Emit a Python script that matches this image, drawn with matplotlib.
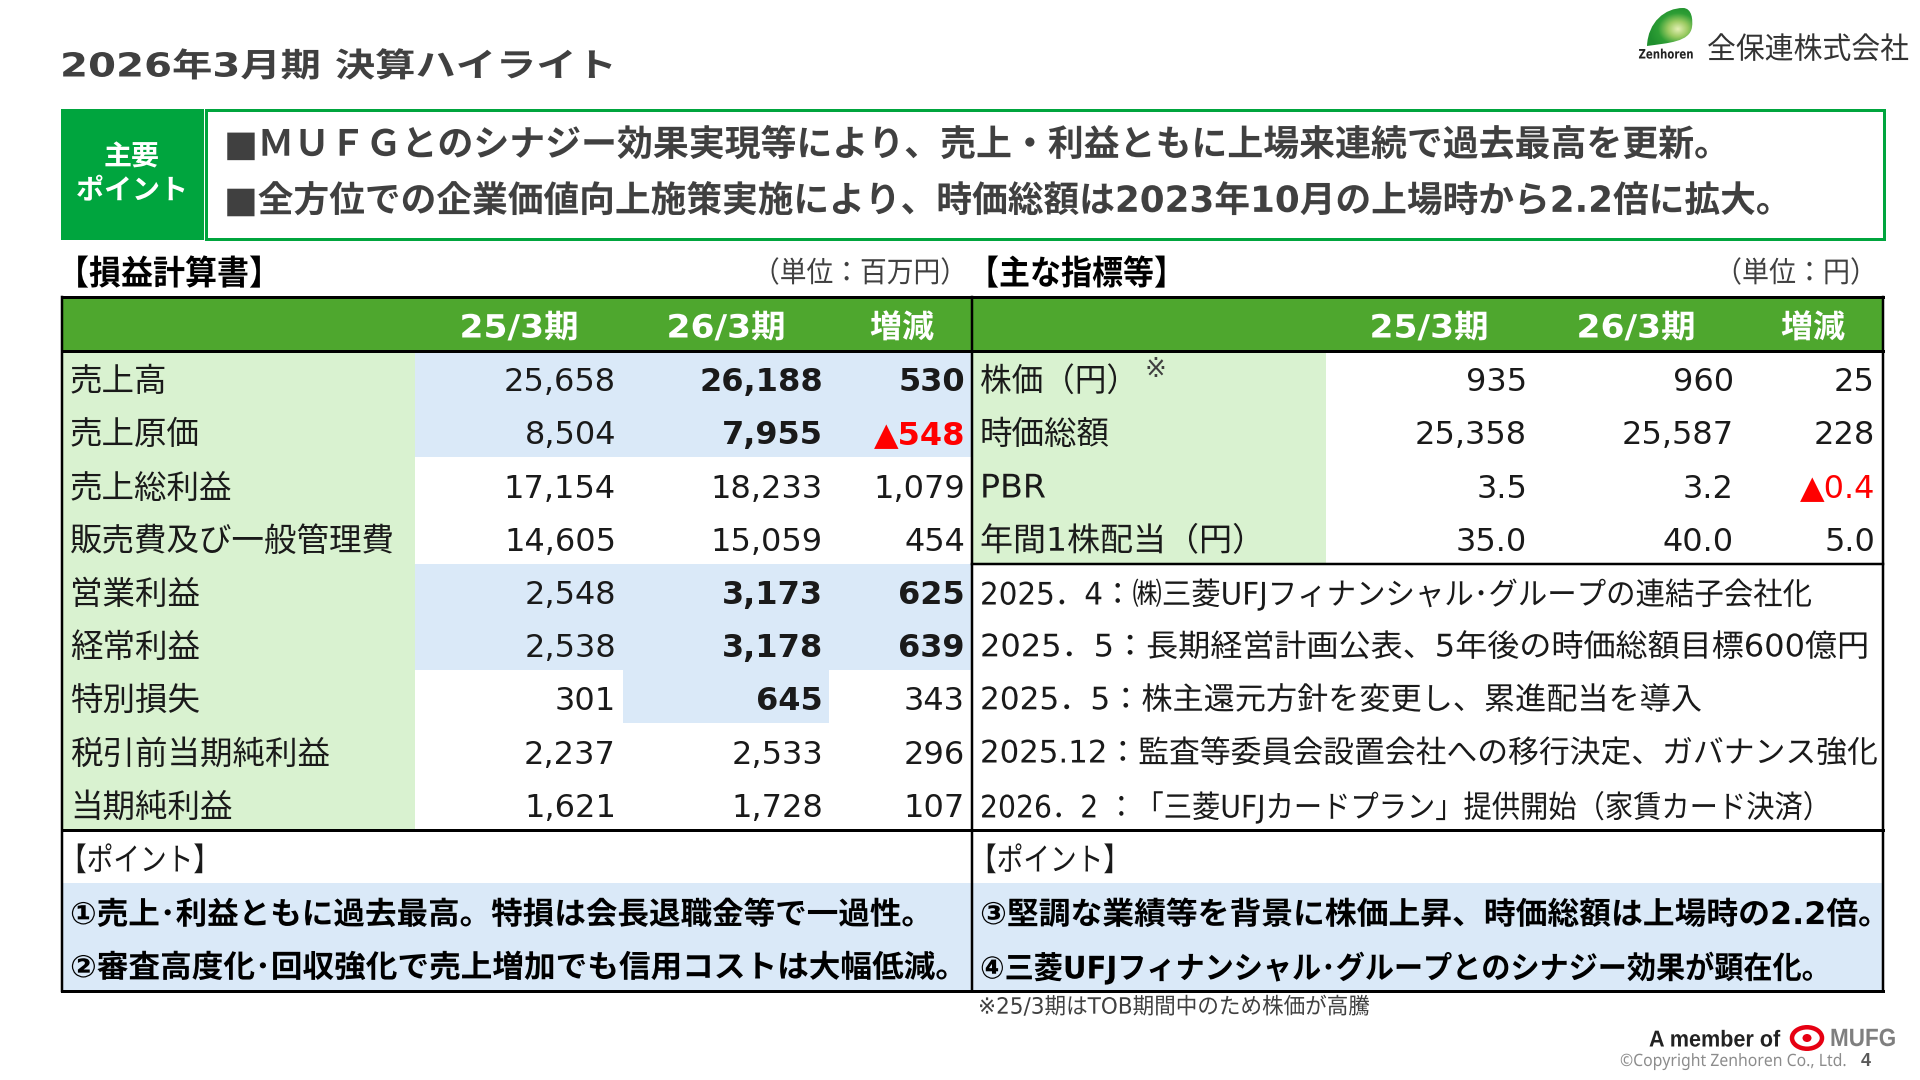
import numpy as np
import matplotlib
matplotlib.use("Agg")
import matplotlib.pyplot as plt
import matplotlib.patheffects as pe
from matplotlib.patches import Rectangle, PathPatch, Ellipse
from matplotlib.path import Path
from matplotlib.transforms import Affine2D
from matplotlib.colors import LinearSegmentedColormap

# ---------- data ----------
pl_labels = ["売上高", "売上原価", "売上総利益", "販売費及び一般管理費", "営業利益",
             "経常利益", "特別損失", "税引前当期純利益", "当期純利益"]
pl_fy25 = [25658, 8504, 17154, 14605, 2548, 2538, 301, 2237, 1621]
pl_fy26 = [26188, 7955, 18233, 15059, 3173, 3178, 645, 2533, 1728]
pl_diff = [530, -548, 1079, 454, 625, 639, 343, 296, 107]
pl_blue_all = [0, 1, 4, 5]
pl_blue_fy26 = [6]

kpi_labels = ["株価（円）", "時価総額", "PBR", "年間1株配当（円）"]
kpi_fy25 = ["935", "25,358", "3.5", "35.0"]
kpi_fy26 = ["960", "25,587", "3.2", "40.0"]
kpi_diff = ["25", "228", "▲0.4", "5.0"]

col_heads = ["25/3期", "26/3期", "増減"]
events = ["2025．4：㈱三菱UFJフィナンシャル･グループの連結子会社化",
          "2025．5：長期経営計画公表、5年後の時価総額目標600億円",
          "2025．5：株主還元方針を変更し、累進配当を導入",
          "2025.12：監査等委員会設置会社への移行決定、ガバナンス強化",
          "2026．2 ：「三菱UFJカードプラン」提供開始（家賃カード決済）"]
event_ends = [1812, 1869, 1702, 1878, 1831]
points_left = ["①売上･利益ともに過去最高。特損は会長退職金等で一過性。",
               "②審査高度化･回収強化で売上増加でも信用コストは大幅低減。"]
points_left_ends = [933, 967]
points_right = ["③堅調な業績等を背景に株価上昇、時価総額は上場時の2.2倍。",
                "④三菱UFJフィナンシャル･グループとのシナジー効果が顕在化。"]
points_right_ends = [1890, 1831]

# ---------- style ----------
C_BOX = "#00A53E"
C_HEAD = "#4EA72E"
C_LABEL = "#D9F2D0"
C_BLUE = "#DAE9F8"
C_TXT = "#1a1a1a"
C_DARK = "#404040"
RED = "#FF0000"
FAM = ["DejaVu Sans", "Noto Sans CJK JP"]
LAT = ["Liberation Sans", "DejaVu Sans"]

fig = plt.figure(figsize=(19.2, 10.8), dpi=100, facecolor="white")
ax = fig.add_axes([0, 0, 1, 1])
ax.set_xlim(0, 1920)
ax.set_ylim(1080, 0)
ax.axis("off")
renderer = fig.canvas.get_renderer()


class Squeeze(pe.AbstractPathEffect):
    """Scale a text horizontally about a display x anchor."""
    def __init__(self, sx, x0):
        super().__init__()
        self.sx, self.x0 = sx, x0

    def draw_path(self, renderer, gc, tpath, affine, rgbFace=None):
        t = affine + Affine2D().translate(-self.x0, 0).scale(self.sx, 1).translate(self.x0, 0)
        renderer.draw_path(gc, tpath, t, rgbFace)


def put(x, y, s, px=32, color=C_TXT, weight="normal", ha="left", width=None, family=None):
    t = ax.text(x, y, s, fontsize=px * 0.72, color=color, fontweight=weight, ha=ha,
                va="center", family=family or FAM)
    if width is not None:
        bb = t.get_window_extent(renderer)
        anchor = {"left": bb.x0, "center": (bb.x0 + bb.x1) / 2, "right": bb.x1}[ha]
        t.set_path_effects([Squeeze(width / bb.width, anchor)])
    return t


def rect(x0, y0, x1, y1, color):
    ax.add_patch(Rectangle((x0, y0), x1 - x0, y1 - y0, facecolor=color, edgecolor="none", lw=0))


def line(x0, y0, x1, y1, w=2.0, color="black"):
    ax.plot([x0, x1], [y0, y1], color=color, lw=w * 0.72, solid_capstyle="projecting")


# ---------- layout ----------
L, M, R = 61.5, 972, 1883
TOP, HEAD_B, ROW_H = 297, 351, 53.2
ROWS_B = HEAD_B + 9 * ROW_H
P1, BOT = 883, 991
ROW_DY = 5
row_y = [HEAD_B + ROW_H * (i + 0.5) for i in range(9)]
row_top = [HEAD_B + ROW_H * i for i in range(9)]

# title
put(60, 67, "2026年3月期 決算ハイライト", px=33, color=C_DARK, weight="bold", width=557)

# key points box
rect(61, 109, 204, 240, C_BOX)
ax.add_patch(Rectangle((206, 109.5), 1678, 129.5, facecolor="white", edgecolor=C_BOX, lw=3 * 0.72))
put(132, 158, "主要", px=28, color="white", weight="bold", ha="center")
put(132, 191, "ポイント", px=28, color="white", weight="bold", ha="center", width=112)
put(224, 145, "■ＭＵＦＧとのシナジー効果実現等により、売上・利益ともに上場来連続で過去最高を更新。",
    px=36, color=C_DARK, weight="bold", width=1506)
put(224, 201, "■全方位での企業価値向上施策実施により、時価総額は2023年10月の上場時から2.2倍に拡大。",
    px=36, color=C_DARK, weight="bold", width=1568)

# section heads
put(57, 275, "【損益計算書】", px=34, color="black", weight="bold", width=224)
put(968, 275, "【主な指標等】", px=34, color="black", weight="bold", width=217)
put(967, 274, "（単位：百万円）", px=29, color=C_DARK, ha="right", width=214)
put(1877, 274, "（単位：円）", px=29, color=C_DARK, ha="right", width=162)

# fills
rect(L, TOP, R, HEAD_B, C_HEAD)
rect(L, HEAD_B, 415, ROWS_B, C_LABEL)
rect(M, HEAD_B, 1326, HEAD_B + 4 * ROW_H, C_LABEL)
for i in pl_blue_all:
    rect(415, row_top[i], M, row_top[i] + ROW_H, C_BLUE)
for i in pl_blue_fy26:
    rect(623, row_top[i], 829, row_top[i] + ROW_H, C_BLUE)
rect(L, P1, R, BOT, C_BLUE)

# lines
line(L, TOP, R, TOP, 3)
line(L, HEAD_B, R, HEAD_B, 3)
line(L, ROWS_B, R, ROWS_B, 3)
line(L, BOT, R, BOT, 3)
line(L, TOP, L, BOT, 2.5)
line(R, TOP, R, BOT, 2.5)
line(M, TOP, M, BOT, 2.5)
line(M, HEAD_B + 4 * ROW_H, R, HEAD_B + 4 * ROW_H, 2.5)

# headers
for xc, head in zip([519, 726, 902], col_heads):
    put(xc, 329, head, px=32, color="white", weight="bold", ha="center",
        width=119 if "/" in head else 64)
for xc, head in zip([1429, 1636, 1813], col_heads):
    put(xc, 329, head, px=32, color="white", weight="bold", ha="center",
        width=119 if "/" in head else 64)


def fmt(v):
    return f"▲{-v:,}" if v < 0 else f"{v:,}"


# income statement
for i, lab in enumerate(pl_labels):
    y = row_y[i] + ROW_DY
    put(70, y, lab, px=32.5)
    bold26 = i in pl_blue_all or i in pl_blue_fy26
    boldd = i in pl_blue_all
    put(616, y, fmt(pl_fy25[i]), ha="right")
    put(823, y, fmt(pl_fy26[i]), ha="right", weight="bold" if bold26 else "normal")
    put(965, y, fmt(pl_diff[i]), ha="right", weight="bold" if boldd else "normal",
        color=RED if pl_diff[i] < 0 else C_TXT)

# indicators
for i, lab in enumerate(kpi_labels):
    y = row_y[i] + ROW_DY
    put(980, y, lab, px=32.5, width={0: 158, 2: 66, 3: 285}.get(i))
    put(1527, y, kpi_fy25[i], ha="right")
    put(1734, y, kpi_fy26[i], ha="right")
    put(1875, y, kpi_diff[i], ha="right", color=RED if kpi_diff[i].startswith("▲") else C_TXT)
put(1155, 370, "※", px=26, color=C_DARK, ha="center")

# events
for i, (ev, end) in enumerate(zip(events, event_ends)):
    put(980, row_y[4 + i] + ROW_DY - 1, ev, px=31, width=end - 980)

# points
put(60, 862, "【ポイント】", px=32, width=160)
put(970, 862, "【ポイント】", px=32, width=160)
for y, s, end in zip([915, 968], points_left, points_left_ends):
    put(70, y, s, px=31, color="black", weight="bold", width=end - 70)
for y, s, end in zip([915, 968], points_right, points_right_ends):
    put(980, y, s, px=31, color="black", weight="bold", width=end - 980)

# footnote
put(978, 1007, "※25/3期はTOB期間中のため株価が高騰", px=22.5, color=C_DARK, width=392)

# Zenhoren logo
verts = [(1647, 46), (1648, 22), (1665, 8), (1683, 8), (1692, 8), (1693, 20), (1692, 27),
         (1690, 42), (1668, 43), (1647, 46)]
codes = [Path.MOVETO] + [Path.CURVE4] * 9
leaf = PathPatch(Path(verts, codes), facecolor="none", edgecolor="none", transform=ax.transData)
ax.add_patch(leaf)
gx, gy = np.meshgrid(np.linspace(1645, 1695, 80), np.linspace(6, 48, 80))
rr = np.hypot((gx - 1678) / 30, (gy - 29) / 24)
cmap = LinearSegmentedColormap.from_list("leaf", ["#E4EFB4", "#9CCB62", "#2E9E35", "#1F8F2E"])
im = ax.imshow(rr, extent=(1645, 1695, 48, 6), cmap=cmap, vmin=0, vmax=1, aspect="auto", zorder=2)
im.set_clip_path(leaf)
ax.set_xlim(0, 1920)
ax.set_ylim(1080, 0)
put(1666, 55, "Zenhoren", px=13, color="#222222", weight="bold", ha="center", width=55)
put(1707, 50, "全保連株式会社", px=30, color="#333333", width=202)

# MUFG footer
put(1649, 1040, "A member of", px=23, color="#222222", weight="bold", width=131, family=LAT)
ax.add_patch(Ellipse((1807, 1038), 30, 21.5, facecolor="white", edgecolor="#E60012", lw=4.5 * 0.72))
ax.add_patch(Ellipse((1807, 1038), 9, 8, facecolor="#E60012", edgecolor="none"))
put(1830, 1039, "MUFG", px=25, color="#7F7F7F", weight="bold", width=66, family=LAT)
put(1620, 1062, "©Copyright Zenhoren Co., Ltd.", px=17, color="#8C8C8C", width=227,
    family=["Noto Sans", "DejaVu Sans"])
put(1866, 1062, "4", px=18, color="#595959", weight="bold", ha="center", family=LAT)

fig.savefig("out.png", dpi=100, facecolor="white")
